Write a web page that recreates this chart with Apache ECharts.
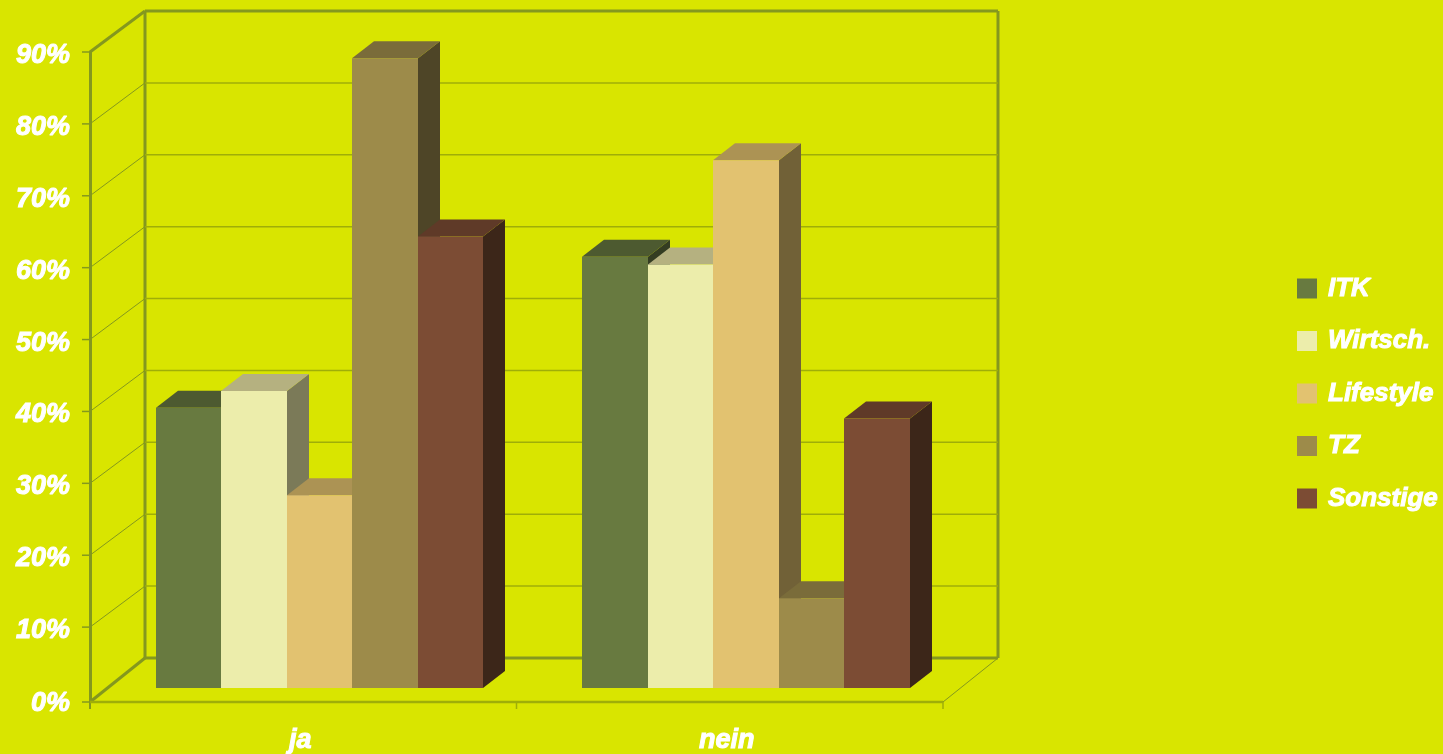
<!DOCTYPE html>
<html><head><meta charset="utf-8">
<style>html,body{margin:0;padding:0;background:#d9e500}#c{width:1443px;height:754px}</style>
<script src="https://cdn.jsdelivr.net/npm/echarts@6/dist/echarts.min.js"></script>
</head><body><div id="c"></div>
<script>
const categories = ['ja', 'nein'];
const yTicks = [0, 10, 20, 30, 40, 50, 60, 70, 80, 90];
const itk = [39.0, 60.0];
const wirtsch = [41.3, 58.9];
const lifestyle = [26.8, 73.4];
const tz = [87.6, 12.5];
const sonstige = [62.8, 37.5];
const names = ['ITK', 'Wirtsch.', 'Lifestyle', 'TZ', 'Sonstige'];
const values = [itk, wirtsch, lifestyle, tz, sonstige];
const faces = [
  ['#687a40', '#4d5a30', '#343d22'],
  ['#ecedab', '#b5b180', '#7b7a58'],
  ['#e2c270', '#ac9354', '#716137'],
  ['#9d8b4a', '#7a6c3a', '#4e4527'],
  ['#7c4c34', '#5f3a28', '#3c2619']
];
const BG = '#d9e500', AXIS = '#84981e', GRID = '#9fae08';
const font = {color: '#fff', fontFamily: '"Liberation Sans", Arial, sans-serif', fontWeight: 'bold', fontStyle: 'italic',
  textBorderColor: '#fff', textBorderWidth: 1};
const WALL = [55, -41], BAR = [22, -17], BASE_LIFT = 11, BAR_SHIFT = 16.4, BAR_FRAC = 0.1535;

function line(x1, y1, x2, y2, w, c) {
  return {type: 'line', shape: {x1, y1, x2, y2}, style: {stroke: c, lineWidth: w}, silent: true};
}
function wallItem(params, api) {
  const cs = params.coordSys, v = api.value(0), y = api.coord([0, v])[1];
  const L = cs.x, R = cs.x + cs.width, ch = [];
  const fy = v === 0 ? y + 3 : y;
  const by = y + WALL[1];
  ch.push(line(L + WALL[0], by, R + WALL[0], by, v === 0 || v === 90 ? 3 : 1.5, v === 0 || v === 90 ? AXIS : GRID));
  const thick = v === 0 || v === 90;
  ch.push(line(L, fy, L + WALL[0], by, thick ? 3 : 1, AXIS));
  if (v === 0) {
    ch.push(line(R, fy, R + WALL[0], by, 1, AXIS));
    ch.push(line(L + WALL[0], by, L + WALL[0], cs.y + WALL[1], 3, AXIS));
    ch.push(line(R + WALL[0], by, R + WALL[0], cs.y + WALL[1], 3, AXIS));
    ch.push(line(L, y, L, fy + 7, 2, AXIS));
    ch.push(line(L, fy, R, fy, 2.5, GRID));
    ch.push(line((L + R) / 2, fy, (L + R) / 2, fy + 7, 1.5, GRID));
    ch.push(line(R, fy, R, fy + 7, 1.5, GRID));
  }
  ch.push(line(L - 8, fy, L, fy, 1.5, AXIS));
  return {type: 'group', children: ch};
}
function barRender(si) {
  return function (params, api) {
    const c = api.value(0), v = api.value(1);
    const top = api.coord([c, v]), base = api.coord([c, 0]);
    const band = api.size([1, 0])[0], w = band * BAR_FRAC;
    const x0 = Math.round(top[0] + BAR_SHIFT + (si - 2.5) * w), x1 = Math.round(top[0] + BAR_SHIFT + (si - 1.5) * w);
    const yt = top[1] - BASE_LIFT, yb = base[1] - BASE_LIFT;
    const poly = (pts, fill) => ({type: 'polygon', shape: {points: pts}, style: {fill}, silent: true});
    return {type: 'group', children: [
      poly([[x1, yt], [x1 + BAR[0], yt + BAR[1]], [x1 + BAR[0], yb + BAR[1]], [x1, yb]], faces[si][2]),
      poly([[x0, yt], [x0 + BAR[0], yt + BAR[1]], [x1 + BAR[0], yt + BAR[1]], [x1, yt]], faces[si][1]),
      poly([[x0, yt], [x1, yt], [x1, yb], [x0, yb]], faces[si][0])
    ]};
  };
}
const series = [{
  type: 'custom', name: 'wall', silent: true, clip: false, z: 1,
  data: yTicks.map(v => [v]), encode: {y: 0}, renderItem: wallItem
}];
names.forEach((n, si) => series.push({
  type: 'custom', name: n, clip: false, z: 2 + si, silent: true,
  itemStyle: {color: faces[si][0]},
  data: values[si].map((v, i) => [i, v]), encode: {x: 0, y: 1}, renderItem: barRender(si)
}));
const chart = echarts.init(document.getElementById('c'), null, {renderer: 'canvas'});
chart.setOption({
  animation: false,
  backgroundColor: BG,
  grid: {left: 90, right: 500, top: 52, bottom: 55, containLabel: false, outerBoundsMode: 'none'},
  xAxis: {type: 'category', data: categories, offset: 3,
    axisLine: {show: false},
    axisTick: {show: false},
    axisLabel: {...font, fontSize: 27, margin: 25, padding: [0, 6, 0, 0]}},
  yAxis: {type: 'value', min: 0, max: 90, interval: 10,
    splitLine: {show: false},
    axisLine: {show: true, lineStyle: {color: AXIS, width: 3}},
    axisTick: {show: false},
    axisLabel: {...font, fontSize: 27, margin: 20, padding: [7, 0, 0, 0],
      formatter: v => v === 0 ? '{z|0%}' : v + '%',
      rich: {z: {...font, fontSize: 27, padding: [3, 0, 0, 0]}}}},
  legend: {left: 1297, top: 275, padding: 0, orient: 'vertical', itemWidth: 20, itemHeight: 20, itemGap: 25.5,
    icon: 'rect', selectedMode: false, data: names,
    textStyle: {...font, fontSize: 26, lineHeight: 20, padding: [0, 0, 0, 6]}},
  tooltip: {show: false},
  series
});
</script></body></html>
